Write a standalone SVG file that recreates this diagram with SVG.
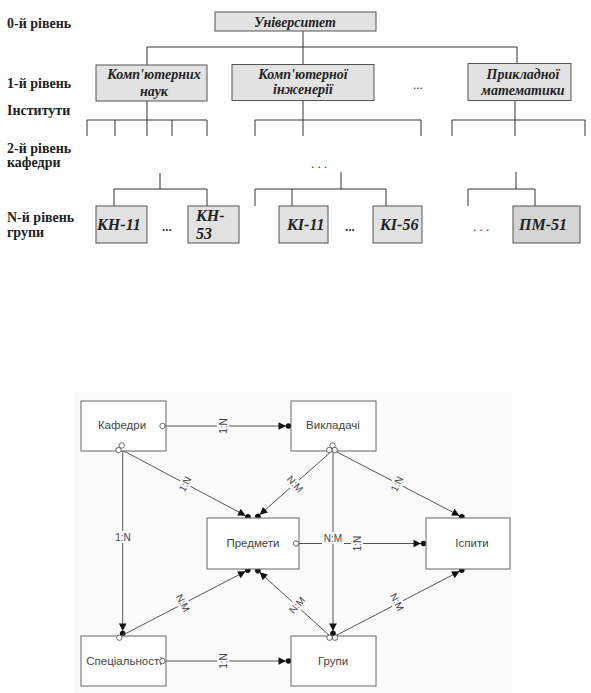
<svg xmlns="http://www.w3.org/2000/svg" width="591" height="693" viewBox="0 0 591 693">
<defs>
<style>
.lvl{font-family:"Liberation Serif",serif;font-weight:bold;font-size:14px;fill:#222}
.bx{fill:#e2e2e2;stroke:#555;stroke-width:1}
.bxd{fill:#d4d4d4;stroke:#555;stroke-width:1}
.bt{font-family:"Liberation Serif",serif;font-weight:bold;font-style:italic;font-size:14px;fill:#222;text-anchor:middle}
.gt{font-family:"Liberation Serif",serif;font-weight:bold;font-style:italic;font-size:16px;fill:#222}
.tl{stroke:#333;stroke-width:1;fill:none}
.dots{font-family:"Liberation Serif",serif;font-size:13px;fill:#333}
.eb{fill:#fff;stroke:#666;stroke-width:1}
.et{font-family:"Liberation Sans",sans-serif;font-size:11.5px;fill:#444;text-anchor:middle}
.el{stroke:#555;stroke-width:1;fill:none}
.oc{fill:#fff;stroke:#555;stroke-width:0.9}
.lb{font-family:"Liberation Sans",sans-serif;font-size:10px;fill:#444;text-anchor:middle}
.lbg{fill:#fbfbfb}
</style>
<marker id="ae" viewBox="-14 -5 16 10" refX="0" refY="0" markerWidth="16" markerHeight="10" markerUnits="userSpaceOnUse" orient="auto" overflow="visible">
<path d="M-12.5,-3.8 L-12.5,3.8 L-5,0 Z" fill="#111"/>
<circle cx="-2.5" cy="0" r="2.8" fill="#111"/>
</marker>
</defs>
<rect width="591" height="693" fill="#fff"/>

<!-- level labels -->
<g id="levels">
<text class="lvl" x="7" y="27.5">0-й рівень</text>
<text class="lvl" x="7" y="88">1-й рівень</text>
<text class="lvl" x="7" y="115">Інститути</text>
<text class="lvl" x="7" y="153">2-й рівень</text>
<text class="lvl" x="7" y="167">кафедри</text>
<text class="lvl" x="7" y="222">N-й рівень</text>
<text class="lvl" x="7" y="237">групи</text>
</g>

<!-- tree connectors -->
<g id="tree-connectors">
<path class="tl" d="M303,31 V47 M147,47 H517 M147,47 V65 M303,47 V64 M517,47 V63"/>
<path class="tl" d="M147,101 V120 M87,120 H207 M87,120 V136 M115,120 V136 M147,120 V136 M172,120 V136 M207,120 V136"/>
<path class="tl" d="M303,101 V120 M255,120 H421 M255,120 V136 M303,120 V136 M421,120 V136"/>
<path class="tl" d="M515,101 V120 M452,120 H585 M452,120 V136 M515,120 V136 M585,120 V136"/>
<path class="tl" d="M160,173 V189 M114,189 H207 M114,189 V206 M207,189 V206"/>
<path class="tl" d="M341,172 V189 M255,189 H386 M255,189 V206 M292,189 V206 M386,189 V206"/>
<path class="tl" d="M516,172 V189 M468,189 H535 M468,189 V206 M535,189 V206"/>
</g>

<g id="univ"><rect class="bx" x="215" y="12" width="161" height="19"/><text class="bt" x="295" y="26.5">Університет</text></g>
<g id="inst-kn"><rect class="bx" x="96" y="65" width="111" height="36"/><text class="bt" x="154" y="79">Комп'ютерних</text><text class="bt" x="154" y="96">наук</text></g>
<g id="inst-ki"><rect class="bx" x="232" y="64.5" width="142" height="36"/><text class="bt" x="303" y="78.5">Комп'ютерної</text><text class="bt" x="303" y="94">інженерії</text></g>
<g id="inst-pm"><rect class="bx" x="468" y="63.5" width="103" height="37"/><text class="bt" x="523" y="78.5">Прикладної</text><text class="bt" x="523" y="95">математики</text></g>
<text class="dots" x="413" y="89">...</text>
<text class="dots" x="311" y="168">. . .</text>

<g id="kn11"><rect class="bx" x="96" y="206" width="51" height="37"/><text class="gt" x="97" y="229.5">КН-11</text></g>
<g id="kn53"><rect class="bx" x="188" y="206" width="51" height="37"/><text class="gt" x="196" y="221">КН-</text><text class="gt" x="196" y="239">53</text></g>
<g id="ki11"><rect class="bx" x="279" y="206" width="49" height="37"/><text class="gt" x="287" y="229.5">КІ-11</text></g>
<g id="ki56"><rect class="bx" x="373" y="206" width="49" height="37"/><text class="gt" x="380" y="229.5">КІ-56</text></g>
<g id="pm51"><rect class="bxd" x="513" y="206" width="67" height="37"/><text class="gt" x="519" y="229.5">ПМ-51</text></g>
<text class="dots" x="162" y="231" font-weight="bold">...</text>
<text class="dots" x="345" y="231" font-weight="bold">...</text>
<text class="dots" x="473" y="231">. . .</text>

<!-- ER diagram -->
<rect x="73" y="392" width="439" height="301" fill="#fbfbfb"/>

<g id="er-connectors">
<line class="el" x1="165.3" y1="426" x2="291" y2="426" marker-end="url(#ae)"/>
<line class="el" x1="122.7" y1="451" x2="122.7" y2="636" marker-end="url(#ae)"/>
<line class="el" x1="122" y1="450" x2="250" y2="518" marker-end="url(#ae)"/>
<line class="el" x1="333" y1="450" x2="256" y2="518" marker-end="url(#ae)"/>
<line class="el" x1="333" y1="450" x2="464" y2="518" marker-end="url(#ae)"/>
<line class="el" x1="333" y1="451" x2="333" y2="636" marker-end="url(#ae)"/>
<line class="el" x1="298.7" y1="543.5" x2="426" y2="543.5" marker-end="url(#ae)"/>
<line class="el" x1="121" y1="636" x2="250" y2="569" marker-end="url(#ae)"/>
<line class="el" x1="330" y1="636" x2="256" y2="569" marker-end="url(#ae)"/>
<line class="el" x1="335" y1="636" x2="464" y2="569" marker-end="url(#ae)"/>
<line class="el" x1="165.3" y1="661" x2="291" y2="661" marker-end="url(#ae)"/>

<g transform="translate(223,426) rotate(-90)"><rect class="lbg" x="-9" y="-6" width="18" height="12"/><text class="lb" y="3.5">1:N</text></g>
<g transform="translate(123,537)"><rect class="lbg" x="-9" y="-6" width="18" height="12"/><text class="lb" y="3.5">1:N</text></g>
<g transform="translate(185,484) rotate(-62)"><rect class="lbg" x="-9" y="-6" width="18" height="12"/><text class="lb" y="3.5">1:N</text></g>
<g transform="translate(295,484) rotate(48)"><rect class="lbg" x="-11" y="-6" width="22" height="12"/><text class="lb" y="3.5">N:M</text></g>
<g transform="translate(397,484) rotate(-63)"><rect class="lbg" x="-9" y="-6" width="18" height="12"/><text class="lb" y="3.5">1:N</text></g>
<g transform="translate(333,538)"><rect class="lbg" x="-11" y="-6" width="22" height="12"/><text class="lb" y="3.5">N:M</text></g>
<g transform="translate(357,543.5) rotate(-90)"><rect class="lbg" x="-9" y="-6" width="18" height="12"/><text class="lb" y="3.5">1:N</text></g>
<g transform="translate(183,603) rotate(63)"><rect class="lbg" x="-11" y="-6" width="22" height="12"/><text class="lb" y="3.5">N:M</text></g>
<g transform="translate(297,605) rotate(-48)"><rect class="lbg" x="-11" y="-6" width="22" height="12"/><text class="lb" y="3.5">N:M</text></g>
<g transform="translate(397,602) rotate(63)"><rect class="lbg" x="-11" y="-6" width="22" height="12"/><text class="lb" y="3.5">N:M</text></g>
<g transform="translate(223,661) rotate(-90)"><rect class="lbg" x="-9" y="-6" width="18" height="12"/><text class="lb" y="3.5">1:N</text></g>
</g>

<g id="kafedry"><rect class="eb" x="81" y="401" width="85" height="50"/><text class="et" x="122" y="429">Кафедри</text>
<circle class="oc" cx="162.5" cy="426" r="2.7"/><circle class="oc" cx="121.7" cy="445.5" r="2.7"/><circle class="oc" cx="118.5" cy="450" r="2.7"/></g>
<g id="vykladachi"><rect class="eb" x="291" y="401" width="85" height="50"/><text class="et" x="333" y="429">Викладачі</text>
<circle class="oc" cx="332.5" cy="445.5" r="2.7"/><circle class="oc" cx="329.3" cy="450" r="2.7"/><circle class="oc" cx="334.7" cy="450" r="2.7"/></g>
<g id="predmety"><rect class="eb" x="207" y="518" width="92" height="51"/><text class="et" x="253" y="547">Предмети</text>
<circle class="oc" cx="296" cy="543.5" r="2.7"/></g>
<g id="ispyty"><rect class="eb" x="426" y="518" width="84" height="51"/><text class="et" x="472" y="547">Іспити</text></g>
<g id="specialnosti"><rect class="eb" x="81" y="636" width="85" height="50"/><text class="et" x="124" y="665">Спеціальності</text>
<circle class="oc" cx="162.5" cy="661" r="2.7"/><circle class="oc" cx="119.3" cy="637.7" r="2.7"/></g>
<g id="grupy"><rect class="eb" x="291" y="636" width="85" height="50"/><text class="et" x="333" y="665">Групи</text>
<circle class="oc" cx="329.5" cy="637.7" r="2.7"/><circle class="oc" cx="335" cy="637.7" r="2.7"/></g>
</svg>
